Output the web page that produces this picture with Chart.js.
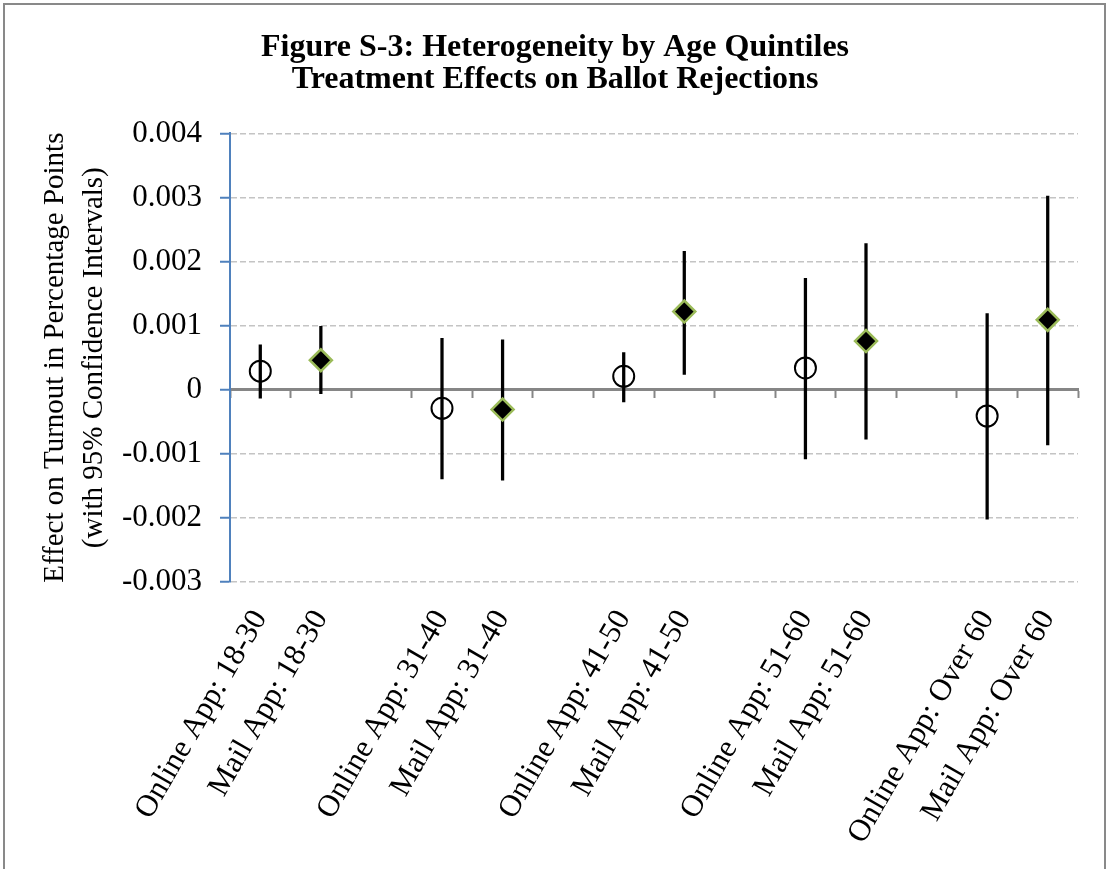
<!DOCTYPE html>
<html>
<head>
<meta charset="utf-8">
<title>Figure S-3</title>
<script src="https://cdn.jsdelivr.net/npm/chart.js@4"></script>
<style>
  html, body { margin: 0; padding: 0; background: #fff; overflow: hidden; }
  #wrap { position: absolute; left: 0; top: 0; width: 1107px; height: 869px; }
  #frame { position: absolute; left: 3px; top: 3px; width: 1099px; height: 900px; border: 2px solid #898989; pointer-events: none; }
</style>
</head>
<body>
<div id="wrap"><canvas id="chart"></canvas></div>
<div id="frame"></div>
<script>
const categories = [
    'Online App: 18-30', 'Mail App: 18-30', '',
    'Online App: 31-40', 'Mail App: 31-40', '',
    'Online App: 41-50', 'Mail App: 41-50', '',
    'Online App: 51-60', 'Mail App: 51-60', '',
    'Online App: Over 60', 'Mail App: Over 60'
];
const onlineEst = [0.00029, null, null, -0.00029, null, null, 0.00021, null, null, 0.00034, null, null, -0.00041, null];
const mailEst = [null, 0.00046, null, null, -0.00031, null, null, 0.00122, null, null, 0.00076, null, null, 0.00109];
const ciLow = [-0.00013, -0.00006, null, -0.00139, -0.00141, null, -0.00019, 0.00024, null, -0.00108, -0.00077, null, -0.00202, -0.00086];
const ciHigh = [0.0007, 0.00099, null, 0.0008, 0.00078, null, 0.00058, 0.00216, null, 0.00174, 0.00228, null, 0.00119, 0.00302];
const yTicks = { min: -0.003, max: 0.004, step: 0.001 };

const serif = '"Liberation Serif", "Times New Roman", serif';
const ciBars = ciLow.map((lo, i) => lo === null ? null : [lo, ciHigh[i]]);

new Chart(document.getElementById('chart').getContext('2d'), {
    type: 'bar',
    data: {
        labels: categories,
        datasets: [
            {
                label: '95% CI',
                data: ciBars,
                backgroundColor: '#000',
                borderWidth: 0,
                barThickness: 2.6,
                order: 3
            },
            {
                type: 'line',
                label: 'Online App',
                data: onlineEst,
                showLine: false,
                pointStyle: 'circle',
                pointRadius: 10.5,
                pointHoverRadius: 10.5,
                pointBorderWidth: 2,
                pointBorderColor: '#000',
                pointBackgroundColor: 'rgba(0,0,0,0)',
                order: 1
            },
            {
                type: 'line',
                label: 'Mail App',
                data: mailEst,
                showLine: false,
                pointStyle: 'rectRot',
                pointRadius: 11,
                pointHoverRadius: 11,
                pointBorderWidth: 2.5,
                pointBorderColor: '#9BBB59',
                pointBackgroundColor: '#000',
                order: 1
            }
        ]
    },
    options: {
        responsive: true,
        maintainAspectRatio: false,
        animation: false,
        events: [],
        layout: { padding: { left: 32, right: 29, top: 0, bottom: 0 } },
        plugins: {
            legend: { display: false },
            tooltip: { enabled: false },
            title: {
                display: true,
                text: ['Figure S-3: Heterogeneity by Age Quintiles', 'Treatment Effects on Ballot Rejections'],
                color: '#000',
                font: { family: serif, size: 32, weight: 'bold', lineHeight: 0.99 },
                padding: { top: 32, bottom: 38 }
            }
        },
        scales: {
            x: {
                type: 'category',
                offset: true,
                grid: { display: false, drawTicks: false, offset: true },
                border: { display: false },
                ticks: {
                    autoSkip: false,
                    minRotation: 60,
                    maxRotation: 60,
                    padding: 22,
                    color: '#000',
                    font: { family: serif, size: 31 }
                },
                afterFit: s => { s.height = 287; }
            },
            x2: {
                type: 'category',
                position: { y: 0 },
                offset: true,
                grid: { display: true, drawOnChartArea: false, drawTicks: true, tickLength: 7, tickWidth: 2, tickColor: '#868686', offset: true },
                border: { display: true, color: '#868686', width: 3 },
                ticks: { display: false, autoSkip: false }
            },
            y: {
                min: yTicks.min,
                max: yTicks.max,
                ticks: {
                    stepSize: yTicks.step,
                    color: '#000',
                    padding: 18,
                    font: { family: serif, size: 31 },
                    callback: v => Math.abs(v) < 1e-9 ? '0' : v.toFixed(3)
                },
                grid: { color: '#C4C4C4', lineWidth: 1.5, tickColor: '#4F81BD', tickWidth: 2, tickLength: 10, tickBorderDash: [] },
                border: { color: '#4F81BD', width: 2, dash: [6, 3] },
                title: {
                    display: true,
                    text: ['Effect on Turnout in Percentage Points', '(with 95% Confidence Intervals)'],
                    color: '#000',
                    font: { family: serif, size: 29, lineHeight: 1.35 },
                    padding: { top: 4, bottom: 0 }
                },
                afterFit: s => { s.width = 198; }
            }
        }
    }
});
</script>
</body>
</html>
